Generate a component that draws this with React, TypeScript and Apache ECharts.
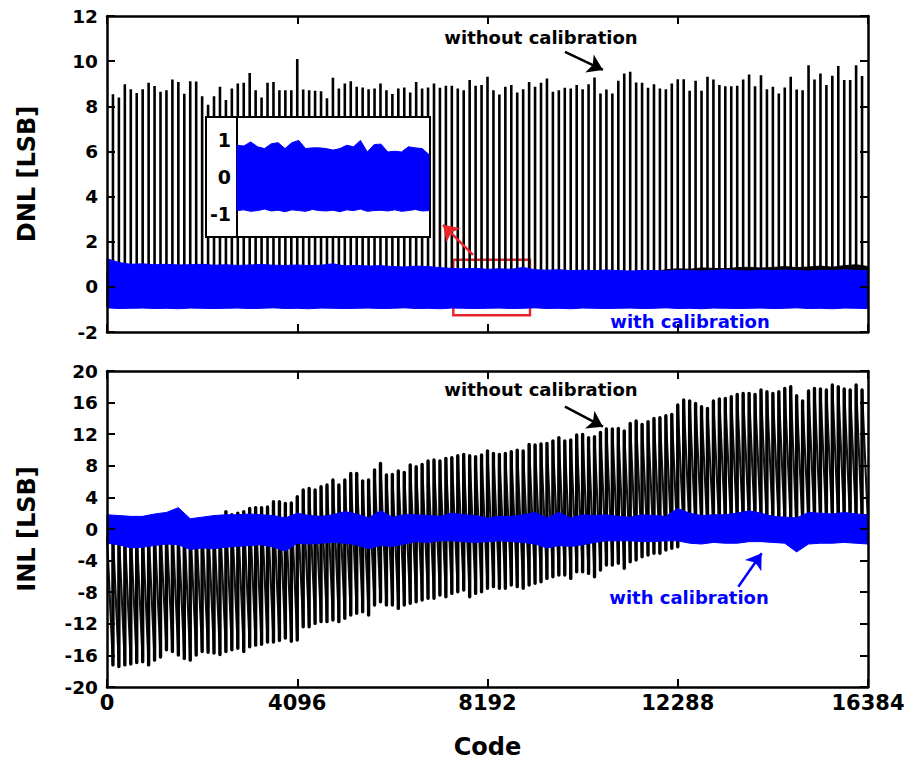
import React, { useEffect, useRef } from 'react';
import * as echarts from 'echarts';

// ---------- data ----------
const CODE_MAX = 16384;
const PERIOD = 128; // code spacing of the wide-code spikes
const ENV_STEP = 256; // code spacing of envelope samples
const xTickInterval = 4096;

// DNL without calibration: spike height at code 128*k, k = 1..127
const dnlSpikeHeights = [
  8.53, 8.39, 8.98, 8.76, 8.59, 8.76, 9.04, 8.9, 8.64, 8.71, 9.19, 9.08, 8.55, 9.11, 9.1, 8.44,
  8.07, 8.44, 8.86, 8.28, 8.79, 9.01, 9.04, 9.48, 8.71, 8.39, 9.04, 9.08, 8.71, 8.71, 8.71, 10.09,
  8.74, 8.71, 8.69, 8.67, 8.36, 9.26, 8.79, 9.01, 9.11, 8.86, 8.83, 8.76, 8.79, 9.01, 8.71, 8.54,
  8.79, 8.83, 8.61, 9.08, 8.79, 8.83, 9.01, 8.82, 8.91, 8.91, 8.79, 8.71, 9.16, 8.91, 8.94, 9.31,
  8.71, 8.52, 8.86, 8.94, 8.61, 8.76, 9.08, 8.86, 9.04, 9.23, 8.64, 8.71, 8.82, 8.79, 8.94, 8.76,
  8.98, 9.28, 8.57, 8.74, 8.57, 9.13, 9.45, 9.53, 9.05, 9.04, 8.82, 8.98, 8.79, 8.76, 9.01, 9.2,
  9.2, 8.69, 9.13, 8.69, 9.31, 9.19, 8.94, 8.89, 8.89, 8.91, 9.19, 9.41, 8.89, 9.38, 8.76, 8.86,
  8.57, 8.83, 9.31, 8.74, 8.71, 9.82, 9.19, 9.45, 8.94, 9.35, 9.78, 9.16, 9.16, 9.82, 9.34,
];
// DNL without calibration: upper edge of the noise floor (every 256 codes)
const dnlRawUpper = [
  0.7, 0.7, 0.7, 0.7, 0.7, 0.7, 0.7, 0.7, 0.7, 0.7, 0.7, 0.7, 0.7, 0.7, 0.7, 0.7, 0.7, 0.7,
  0.7, 0.7, 0.7, 0.7, 0.7, 0.7, 0.7, 0.7, 0.7, 0.7, 0.7, 0.7, 0.7, 0.7, 0.7, 0.7, 0.7, 0.7,
  0.66, 0.66, 0.66, 0.66, 0.66, 0.66, 0.66, 0.66, 0.66, 0.66, 0.66,
  0.76, 0.8, 0.78, 0.84, 0.82, 0.8, 0.85, 0.87, 0.83, 0.86, 0.9, 0.85, 0.88, 0.92, 0.87, 0.94, 0.98, 0.9,
];
const dnlRawFloor = -0.9;
// DNL with calibration: band envelope (every 256 codes)
const dnlCalUpper = [
  1.25, 1.08, 1.0, 1.02, 0.98, 1.0, 0.97, 0.98, 1.0, 0.96, 0.98, 0.95, 0.97, 0.99, 0.96, 0.95,
  0.97, 0.94, 0.96, 1.02, 0.93, 0.95, 0.92, 0.94, 0.9, 0.88, 0.92, 0.9, 0.85, 0.82, 0.8, 0.82,
  0.78, 0.8, 0.78, 0.86, 0.76, 0.74, 0.76, 0.72, 0.74, 0.72, 0.75, 0.72, 0.7, 0.73, 0.72, 0.7,
  0.74, 0.72, 0.7, 0.73, 0.76, 0.72, 0.7, 0.74, 0.72, 0.75, 0.72, 0.7, 0.74, 0.72, 0.76, 0.73, 0.72,
];
const dnlCalLower = [
  -0.93, -0.96, -0.95, -0.94, -0.96, -0.95, -0.97, -0.94, -0.95, -0.96, -0.95, -0.94, -0.96,
  -0.95, -0.93, -0.96, -0.95, -0.97, -0.94, -0.95, -0.96, -0.95, -0.94, -0.96, -0.95, -0.93,
  -0.96, -0.95, -0.97, -0.94, -0.95, -0.96, -0.95, -0.94, -0.96, -0.95, -0.93, -0.96, -0.95,
  -0.97, -0.94, -0.95, -0.96, -0.95, -0.94, -0.96, -0.95, -0.93, -0.96, -0.95, -0.97, -0.94,
  -0.95, -0.96, -0.95, -0.94, -0.96, -0.95, -0.93, -0.96, -0.95, -0.97, -0.94, -0.95, -0.96,
];

// INL without calibration: value right after the jump at code 128*k (k = 0..127)
const inlRawHigh = [
  -1.0, -0.8, -0.5, -0.6, -0.3, -0.4, 0.0, -0.2, 0.3, 0.1, 0.4, 0.6, 0.2, 0.5, 0.8, 0.6, 0.9, 1.0, 0.8, 1.2,
  2.2, 1.8, 2.0, 2.2, 2.6, 2.7, 2.7, 2.8, 3.45, 3.45, 3.25, 3.3,
  4.09, 4.93, 5.14, 4.93, 5.35, 5.57, 6.2, 5.57, 6.2, 7.04, 7.04, 6.07, 6.2, 7.46, 8.31, 6.83,
  6.92, 7.34, 7.17, 8.1, 7.89, 8.18, 8.6, 8.73, 8.6, 8.94, 9.03, 9.28, 9.45, 9.28, 9.15, 9.36, 9.87,
  9.57, 9.45, 9.57, 9.79, 9.99, 9.87, 10.71, 10.63, 10.76, 10.84, 11.14, 11.56, 11.14, 11.26, 11.9, 11.98,
  11.56, 11.68, 12.23, 12.65, 12.65, 12.74, 12.4, 13.37, 13.67, 13.25, 13.58, 14.0, 14.09, 14.34, 14.51, 15.7,
  16.33, 16.2, 15.9, 15.48, 15.27, 16.2, 16.45, 16.54, 16.75, 17.04, 17.17, 17.17, 17.04, 17.59, 17.38, 17.17,
  17.38, 17.8, 18.01, 16.87, 16.2, 17.46, 17.8, 17.72, 17.59, 18.22, 18.01, 17.72, 17.59, 18.22, 17.59,
];
// INL without calibration: value just before the jump at code 128*k (k = 1..128)
const inlRawLow = [
  -17.2, -17.4, -17.2, -17.1, -16.9, -16.8, -17.2, -16.6, -16.2, -15.3, -15.5, -15.95, -16.4, -16.6, -15.95, -15.5,
  -15.6, -15.7, -15.9, -15.5, -15.3, -15.1, -15.5, -14.9, -14.7, -14.6, -14.3, -14.3, -14.1, -13.8, -14.2, -14.05,
  -12.37, -12.37, -11.95, -11.73, -11.73, -11.52, -11.73, -11.31, -10.89, -10.68, -10.47, -10.89, -9.62, -9.2, -9.62, -9.62,
  -10.05, -9.62, -9.41, -9.2, -8.99, -8.78, -8.78, -8.36, -8.57, -8.15, -7.94, -7.73, -8.57, -8.15, -7.94, -7.51,
  -7.3, -7.51, -7.51, -7.09, -7.3, -7.51, -7.09, -6.88, -6.67, -6.25, -6.04, -5.83, -5.83, -6.25, -5.41, -5.41,
  -5.62, -6.04, -5.19, -4.56, -4.56, -4.35, -4.98, -4.14, -3.93, -3.51, -3.29, -3.08, -3.08, -2.66, -2.45, -2.24,
  -0.8, -0.5, -0.6, -0.2, -0.4, 0.0, -0.3, 0.1, -0.1, 0.2, 0.0, 0.3, 0.1, 0.4, 0.2, 0.5,
  0.3, 0.2, 0.6, -1.0, 0.0, 0.4, 0.5, 0.3, 0.6, 0.7, 0.5, 0.8, 0.6, 0.7, 0.5, 0.6,
];
// INL with calibration: band envelope (every 256 codes)
const inlCalUpper = [
  1.8, 1.7, 1.6, 1.6, 1.9, 2.1, 2.7, 1.3, 1.5, 1.7, 1.8, 1.8, 1.9, 1.8, 1.7, 1.4,
  2.0, 1.7, 1.6, 1.8, 2.2, 1.9, 1.4, 2.3, 1.5, 1.8, 1.8, 1.7, 1.6, 2.0, 1.8, 1.7,
  1.4, 1.6, 1.6, 1.8, 2.1, 1.4, 2.1, 1.4, 1.8, 1.7, 1.8, 1.6, 1.5, 1.8, 1.7, 1.6,
  2.6, 2.0, 1.7, 1.8, 1.8, 2.0, 2.3, 2.0, 1.6, 1.5, 1.4, 2.1, 2.0, 1.9, 2.1, 1.9, 1.8,
];
const inlCalLower = [
  -1.8, -2.0, -2.4, -2.3, -2.1, -1.9, -2.0, -2.6, -2.4, -2.5, -2.3, -2.2, -2.1, -2.0, -2.3, -2.8,
  -1.8, -1.9, -1.8, -1.7, -1.8, -2.0, -2.5, -2.1, -2.2, -1.9, -1.6, -1.7, -1.5, -1.5, -1.6, -1.7,
  -1.6, -1.5, -1.6, -1.7, -1.9, -2.4, -2.1, -2.2, -2.0, -1.7, -1.5, -1.5, -1.5, -1.6, -1.6, -1.5,
  -1.5, -1.8, -1.9, -1.7, -1.8, -1.8, -1.6, -1.6, -1.7, -1.8, -2.9, -1.9, -1.8, -1.8, -1.7, -1.8, -1.9,
];

// Inset: zoom of the red box (codes 7450..9130), DNL with calibration
const insetStart = 7450;
const insetStep = 60;
const insetUpper = [
  0.85, 0.83, 0.94, 0.81, 0.76, 0.89, 0.92, 0.76, 0.92, 0.98, 0.76, 0.78, 0.78, 0.76, 0.72,
  0.76, 0.85, 0.81, 0.98, 0.67, 0.87, 0.88, 0.67, 0.69, 0.67, 0.81, 0.78, 0.76, 0.6,
];
const insetLower = [
  -0.9, -0.88, -0.92, -0.9, -0.86, -0.91, -0.89, -0.93, -0.88, -0.9, -0.92, -0.87, -0.9, -0.91, -0.89,
  -0.93, -0.88, -0.9, -0.86, -0.92, -0.9, -0.89, -0.91, -0.88, -0.92, -0.9, -0.87, -0.91, -0.9,
];
const insetTicks = [-1, 0, 1];

// Annotations (data coordinates)
const redBox = [[7456, 1.2], [9107, -1.26]];
const redArrow = [[7880, 1.42], [7234, 2.75]];
const dnlRawLabel = { text: 'without calibration', at: [9344, 11.03] };
const dnlRawArrow = [[9860, 10.41], [10678, 9.61]];
const dnlCalLabel = { text: 'with calibration', at: [12552, -1.54] };
const inlRawLabel = { text: 'without calibration', at: [9344, 17.6] };
const inlRawArrow = [[9860, 15.48], [10678, 12.95]];
const inlCalLabel = { text: 'with calibration', at: [12531, -8.73] };
const inlCalArrow = [[13592, -7.3], [14095, -3.08]];

// ---------- styling ----------
const FONT = '"DejaVu Sans", "Liberation Sans", sans-serif';
const BLUE = '#0000ff';
const RED = '#e8262a';
const BLACK = '#000000';

function band(xi: number, yi: number, start: number, step: number, upper: number[], lower: number[], fill: string, z: number) {
  return {
    type: 'custom',
    xAxisIndex: xi,
    yAxisIndex: yi,
    z,
    silent: true,
    data: [[start, 0]],
    renderItem: (_p: any, api: any) => {
      const pts: number[][] = [];
      for (let i = 0; i < upper.length; i++) pts.push(api.coord([start + i * step, upper[i]]));
      for (let i = lower.length - 1; i >= 0; i--) pts.push(api.coord([start + i * step, lower[i]]));
      return { type: 'polygon', shape: { points: pts }, style: { fill, stroke: fill, lineWidth: 1 } };
    },
  };
}

function xAx(grid: number, position: string, labels: boolean, name?: string) {
  return {
    type: 'value', gridIndex: grid, position, min: 0, max: CODE_MAX, interval: xTickInterval, z: 10,
    name, nameLocation: 'middle', nameGap: 48,
    nameTextStyle: { fontFamily: FONT, fontWeight: 'bold', fontSize: 24, color: BLACK },
    axisLine: { show: true, onZero: false, lineStyle: { color: BLACK, width: 2.5 } },
    axisTick: { show: true, inside: true, length: 8, lineStyle: { color: BLACK, width: 2 } },
    axisLabel: {
      show: labels, showMinLabel: true, showMaxLabel: true, margin: 5,
      formatter: (v: number) => String(v),
      fontFamily: FONT, fontWeight: 'bold', fontSize: 21, color: BLACK,
    },
    splitLine: { show: false },
  };
}
function yAx(grid: number, position: string, labels: boolean, min: number, max: number, interval: number, name?: string) {
  return {
    type: 'value', gridIndex: grid, position, min, max, interval, z: 10,
    name, nameLocation: 'middle', nameGap: 68, nameRotate: 90,
    nameTextStyle: { fontFamily: FONT, fontWeight: 'bold', fontSize: 24, color: BLACK },
    axisLine: { show: true, onZero: false, lineStyle: { color: BLACK, width: 2.5 } },
    axisTick: { show: true, inside: true, length: 8, lineStyle: { color: BLACK, width: 2 } },
    axisLabel: { show: labels, showMinLabel: true, showMaxLabel: true, margin: 9, fontFamily: FONT, fontWeight: 'bold', fontSize: 18.5, color: BLACK },
    splitLine: { show: false },
  };
}

function textPoint(t: { text: string; at: number[] }, color: string) {
  return {
    name: t.text, coord: t.at, symbol: 'circle', symbolSize: 1, itemStyle: { color: 'rgba(0,0,0,0)' },
    label: { show: true, position: 'inside', formatter: '{b}', color, fontFamily: FONT, fontWeight: 'bold', fontSize: 18 },
  };
}
function arrow(a: number[][], color: string) {
  return [
    { coord: a[0], lineStyle: { color, width: 2.5, type: 'solid', opacity: 1 } },
    { coord: a[1], lineStyle: { color, width: 2.5, type: 'solid', opacity: 1 } },
  ];
}

function buildOption() {
  // DNL raw spikes as a polyline
  const spikes: number[][] = [[0, 0]];
  dnlSpikeHeights.forEach((h, i) => {
    const c = (i + 1) * PERIOD;
    spikes.push([c, 0], [c, h], [c, 0]);
  });
  spikes.push([CODE_MAX, 0]);

  // INL raw: jumps and ramps
  const jumps: any[] = [];
  const ramps: any[] = [];
  inlRawHigh.forEach((h, k) => {
    const c = k * PERIOD;
    if (k > 0) jumps.push([c, inlRawLow[k - 1]], [c, h], [c, '-']);
    ramps.push([c, h], [c + PERIOD, inlRawLow[k]], [c + PERIOD, '-']);
  });

  const dnlRawLower = dnlRawUpper.map(() => dnlRawFloor);

  const arrowMarkLine = (data: any[]) => ({
    silent: true,
    symbol: ['none', 'arrow'],
    symbolSize: 15,
    label: { show: false },
    lineStyle: { width: 2.5, type: 'solid', opacity: 1 },
    emphasis: { disabled: true },
    data,
  });

  return {
    animation: false,
    backgroundColor: '#ffffff',
    textStyle: { fontFamily: FONT },
    grid: [
      { left: 107, right: 41, top: 16, height: 316, outerBoundsMode: 'none' },
      { left: 107, right: 41, top: 371, height: 316, outerBoundsMode: 'none' },
      { left: 237, top: 118, width: 192, height: 118, outerBoundsMode: 'none' },
    ],
    xAxis: [
      xAx(0, 'bottom', false),
      xAx(0, 'top', false),
      xAx(1, 'bottom', true, 'Code'),
      xAx(1, 'top', false),
      { type: 'value', gridIndex: 2, min: insetStart, max: insetStart + insetStep * (insetUpper.length - 1), show: false },
    ],
    yAxis: [
      yAx(0, 'left', true, -2, 12, 2, 'DNL [LSB]'),
      yAx(0, 'right', false, -2, 12, 2),
      yAx(1, 'left', true, -20, 20, 4, 'INL [LSB]'),
      yAx(1, 'right', false, -20, 20, 4),
      {
        type: 'value', gridIndex: 2, min: -1.58, max: 1.58, z: 30,
        axisLine: { show: true, onZero: false, lineStyle: { color: BLACK, width: 2 } },
        axisTick: { show: false },
        splitLine: { show: false },
        axisLabel: { show: true, customValues: insetTicks, margin: 6, fontFamily: FONT, fontWeight: 'bold', fontSize: 19, color: BLACK },
      },
    ],
    graphic: [
      { type: 'rect', z: 20, shape: { x: 206, y: 117, width: 224, height: 120 }, style: { fill: '#ffffff', stroke: BLACK, lineWidth: 2 } },
    ],
    series: [
      band(0, 0, 0, ENV_STEP, dnlRawUpper, dnlRawLower, BLACK, 1),
      { type: 'line', xAxisIndex: 0, yAxisIndex: 0, z: 2, silent: true, showSymbol: false, data: spikes, lineStyle: { color: BLACK, width: 2.6 } },
      band(0, 0, 0, ENV_STEP, dnlCalUpper, dnlCalLower, BLUE, 3),
      {
        type: 'line', xAxisIndex: 0, yAxisIndex: 0, z: 12, silent: true, data: [],
        markLine: arrowMarkLine([arrow(dnlRawArrow, BLACK), arrow(redArrow, RED)]),
        markArea: {
          silent: true,
          itemStyle: { color: 'rgba(0,0,0,0)', borderColor: RED, borderWidth: 2.4, opacity: 1 },
          data: [[{ coord: redBox[0] }, { coord: redBox[1] }]],
        },
        markPoint: { silent: true, data: [textPoint(dnlRawLabel, BLACK), textPoint(dnlCalLabel, BLUE)] },
      },
      { type: 'line', xAxisIndex: 2, yAxisIndex: 2, z: 1, silent: true, showSymbol: false, connectNulls: false, data: ramps, lineStyle: { color: '#111111', width: 2.1 } },
      { type: 'line', xAxisIndex: 2, yAxisIndex: 2, z: 2, silent: true, showSymbol: false, connectNulls: false, data: jumps, lineStyle: { color: BLACK, width: 3.4, cap: 'round' } },
      band(2, 2, 0, ENV_STEP, inlCalUpper, inlCalLower, BLUE, 3),
      {
        type: 'line', xAxisIndex: 2, yAxisIndex: 2, z: 12, silent: true, data: [],
        markLine: arrowMarkLine([arrow(inlRawArrow, BLACK), arrow(inlCalArrow, BLUE)]),
        markPoint: { silent: true, data: [textPoint(inlRawLabel, BLACK), textPoint(inlCalLabel, BLUE)] },
      },
      band(4, 4, insetStart, insetStep, insetUpper, insetLower, BLUE, 31),
      {
        type: 'line', xAxisIndex: 4, yAxisIndex: 4, z: 32, silent: true, data: [],
        markLine: {
          silent: true, symbol: ['none', 'none'], label: { show: false },
          data: [
            { yAxis: 1, lineStyle: { color: '#888888', width: 1, type: 'dotted' } },
            { yAxis: -1, lineStyle: { color: '#888888', width: 1, type: 'dotted' } },
            { yAxis: 0, lineStyle: { color: BLACK, width: 2, type: 'solid' } },
          ],
        },
      },
    ],
  };
}

export default function App() {
  const ref = useRef<HTMLDivElement>(null);
  useEffect(() => {
    if (!ref.current) return;
    const chart = echarts.init(ref.current, null, { renderer: 'svg' });
    chart.setOption(buildOption() as any);
    return () => chart.dispose();
  }, []);
  return (
    <div
      ref={ref}
      style={{ position: 'fixed', left: 0, top: 0, width: 909, height: 765, background: '#ffffff' }}
    />
  );
}
